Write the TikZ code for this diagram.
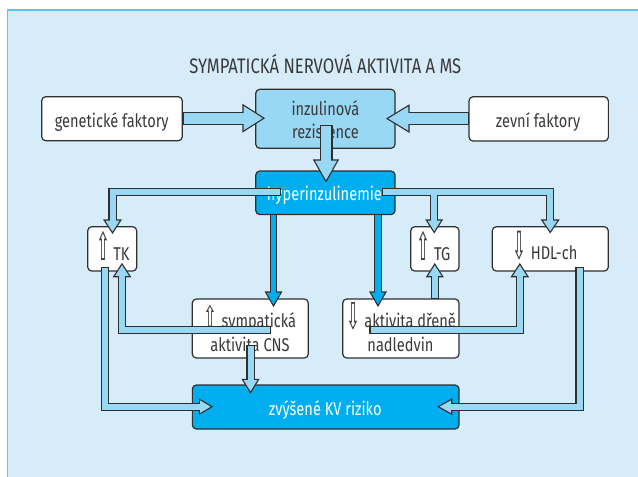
\documentclass[tikz,border=0pt]{standalone}
\usepackage{fontspec}
\usepackage{graphicx}
\setmainfont{Fira Sans}[FakeStretch=0.79]
\newfontfamily\symfont{DejaVu Sans}
\usetikzlibrary{calc}
\definecolor{panel}{HTML}{D6ECF9}
\definecolor{paneledge}{HTML}{5BC5EE}
\definecolor{lightb}{HTML}{99D8F5}
\definecolor{darkb}{HTML}{00AEEF}
\definecolor{edge}{HTML}{2F2F2F}
\definecolor{txt}{HTML}{3A3A3A}
\newcommand\myup[2]{\scalebox{#1}[#2]{\symfont ⇧}}
\newcommand\mydn[2]{\scalebox{#1}[#2]{\symfont ⇩}}
\newcommand\arhead[4]{\filldraw[fill=#1, draw=edge, line width=1.1pt, line join=miter] ($#2!#4!90:#3$) -- #3 -- ($#2!#4!-90:#3$) -- cycle;}
\begin{document}
\begin{tikzpicture}[x=1pt,y=-1pt,
  box/.style={draw=edge, line width=1.2pt, rounded corners=4pt, inner sep=0pt},
  wbox/.style={box, fill=white},
  lbox/.style={box, fill=lightb},
  dbox/.style={box, fill=darkb},
  lbl/.style={anchor=base, inner sep=0pt, text=txt, font=\fontsize{18.5}{22}\selectfont},
  wlbl/.style={lbl, text=white},
  Lout/.style={draw=edge, line width=13pt, line cap=rect, line join=miter},
  Lin/.style={draw=lightb, line width=10.8pt, line cap=rect, line join=miter},
  sout/.style={draw=edge, line width=8.2pt, line cap=rect, line join=miter},
  sin/.style={draw=lightb, line width=6pt, line cap=rect, line join=miter},
  dout/.style={draw=edge, line width=7.3pt, line cap=rect, line join=miter},
  din/.style={draw=darkb, line width=5.3pt, line cap=rect, line join=miter}]
\useasboundingbox (0,0) rectangle (638,477);
\fill[white] (0,0) rectangle (638,477);
\fill[panel] (7.3,9.7) rectangle (645,485);
\draw[paneledge, line width=1.6pt] (7.3,485) -- (7.3,9.7) -- (645,9.7);

\node[lbl, font=\fontsize{21}{25}\selectfont] (title) at (325.3,73.3) {SYMPATICKÁ NERVOVÁ AKTIVITA A MS};

% boxes
\node[wbox, minimum width=140.6pt, minimum height=44pt] (gen) at (112,118.7) {};
\node[lbox, minimum width=139.3pt, minimum height=59pt] (inz) at (325.4,118.8) {};
\node[wbox, minimum width=139.3pt, minimum height=44.3pt] (zev) at (538.7,118.9) {};
\node[dbox, minimum width=139.3pt, minimum height=43.5pt] (hyp) at (325.4,192.8) {};
\node[wbox, minimum width=49pt, minimum height=44.3pt] (tk) at (112.2,248.9) {};
\node[wbox, minimum width=48.3pt, minimum height=44.3pt] (tg) at (434.9,248.9) {};
\node[wbox, minimum width=116pt, minimum height=44.3pt] (hdl) at (550.3,248.9) {};
\node[wbox, minimum width=116pt, minimum height=59pt] (sym) at (250.3,328.5) {};
\node[wbox, minimum width=116.3pt, minimum height=59pt] (nad) at (400.9,328.5) {};
\node[dbox, minimum width=266.7pt, minimum height=44pt] (kv) at (325.7,407) {};

% texts
\node[lbl] (tgen) at (111.7,127.5) {genetické faktory};
\node[lbl] (tzev) at (538,127.5) {zevní faktory};
\node[lbl] (tinz1) at (325.4,115) {inzulinová};
\node[lbl] (tinz2) at (325.4,138.3) {rezistence};
\node[wlbl] (thyp) at (324.4,200.5) {hyperinzulinemie};
\node[lbl] (ttk) at (113,260) {\myup{0.9}{2.1}\,TK};
\node[lbl] (ttg) at (433.3,260) {\myup{0.9}{2.1}\ TG};
\node[lbl] (thdl) at (545.2,259.5) {\mydn{0.9}{2.1}\ HDL-ch};
\node[lbl] (tsym1) at (250,327) {\myup{0.9}{1.6}\ sympatická};
\node[lbl] (tsym2) at (250,351.7) {aktivita CNS};
\node[lbl] (tnad1) at (401.2,327) {\raisebox{-2.5pt}{\mydn{0.9}{2.0}}\ aktivita dřeně};
\node[lbl] (tnad2) at (400.5,351.7) {nadledvin};
\node[wlbl] (tkv) at (325.3,415) {zvýšené KV riziko};

% top large arrows
\draw[Lout] (189,118.2) -- (243,118.2);
\arhead{lightb}{(243,118.2)}{(264,118.2)}{13.4pt}
\draw[Lin] (189,118.2) -- (243,118.2);
\draw[Lout] (462.6,118.6) -- (409,118.6);
\arhead{lightb}{(409,118.6)}{(387,118.6)}{13.4pt}
\draw[Lin] (462.6,118.6) -- (409,118.6);
\draw[Lout] (326,131.2) -- (326,160);
\arhead{lightb}{(326,160)}{(326,181.5)}{12.2pt}
\draw[Lin] (326,131.2) -- (326,160);

% hyperinzulinemie -> TK, TG, HDL
\draw[sout] (276.5,192.2) -- (112.5,192.2) -- (112.5,220);
\draw[sout] (385.8,192.2) -- (434.2,192.2) -- (434.2,220);
\draw[sout] (385.8,192.2) -- (550.2,192.2) -- (550.2,220);
\arhead{lightb}{(112.5,220)}{(112.5,233)}{8.4pt}
\arhead{lightb}{(434.2,220)}{(434.2,232.5)}{7.9pt}
\arhead{lightb}{(550.2,220)}{(550.2,232.5)}{8.4pt}
\draw[sin] (276.5,192.2) -- (112.5,192.2) -- (112.5,220);
\draw[sin] (385.8,192.2) -- (434.2,192.2) -- (434.2,220);
\draw[sin] (385.8,192.2) -- (550.2,192.2) -- (550.2,220);

% hyperinzulinemie -> sympaticka, nadledvin (dark)
\draw[dout] (273.5,217.7) -- (273.5,292);
\arhead{darkb}{(273.5,292)}{(273.5,306)}{8pt}
\draw[din] (273.5,217.7) -- (273.5,292);
\draw[dout] (378,217.7) -- (378,292);
\arhead{darkb}{(378,292)}{(378,306)}{8pt}
\draw[din] (378,217.7) -- (378,292);

% sympaticka -> TK
\draw[sout] (266.5,330.2) -- (122,330.2) -- (122,276.7);
\arhead{lightb}{(122,276.7)}{(122,263.8)}{8.3pt}
\draw[sin] (266.5,330.2) -- (122,330.2) -- (122,276.7);
% TK -> KV
\draw[sout] (104.9,270.9) -- (104.9,406.7) -- (199.3,406.7);
\arhead{lightb}{(199.3,406.7)}{(212,406.7)}{7.5pt}
\draw[sin] (104.9,270.9) -- (104.9,406.7) -- (199.3,406.7);
% sympaticka -> KV
\draw[sout] (250.5,349.2) -- (250.5,379.3);
\arhead{lightb}{(250.5,379.3)}{(250.5,392.6)}{8.2pt}
\draw[sin] (250.5,349.2) -- (250.5,379.3);
% nadledvin -> TG
\draw[sout] (434.8,294.9) -- (434.8,276.7);
\arhead{lightb}{(434.8,276.7)}{(434.8,264)}{8pt}
\draw[sin] (434.8,294.9) -- (434.8,276.7);
% nadledvin -> HDL
\draw[sout] (373.5,330.2) -- (519.8,330.2) -- (519.8,276.7);
\arhead{lightb}{(519.8,276.7)}{(519.8,264)}{8.3pt}
\draw[sin] (373.5,330.2) -- (519.8,330.2) -- (519.8,276.7);
% HDL -> KV
\draw[sout] (579.5,270.9) -- (579.5,406.7) -- (451.7,406.7);
\arhead{lightb}{(451.7,406.7)}{(438.3,406.7)}{7.5pt}
\draw[sin] (579.5,270.9) -- (579.5,406.7) -- (451.7,406.7);
\end{tikzpicture}
\end{document}
